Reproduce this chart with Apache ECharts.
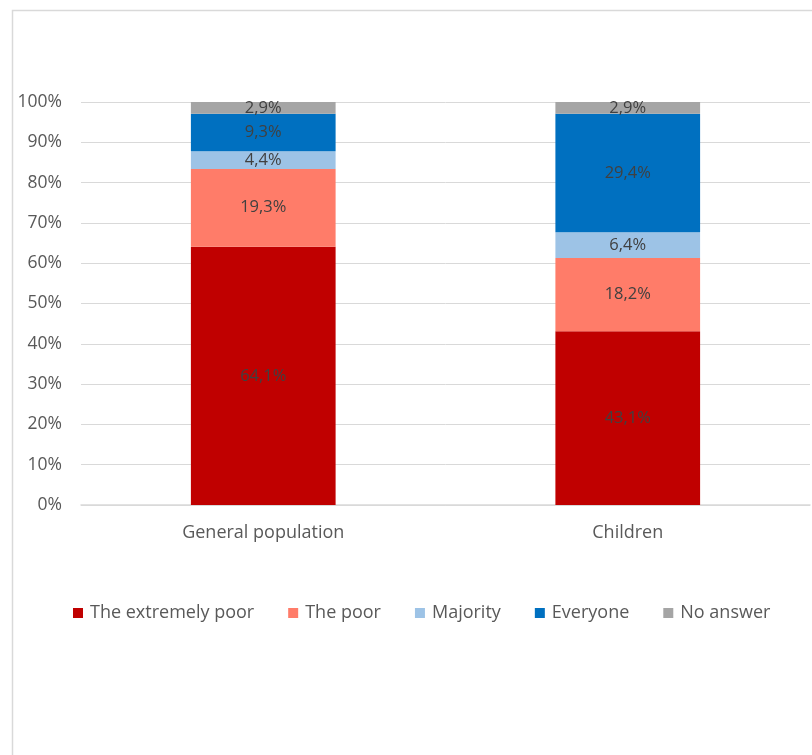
<!DOCTYPE html>
<html>
<head>
<meta charset="utf-8">
<script src="https://cdn.jsdelivr.net/npm/echarts@6/dist/echarts.min.js"></script>
<style>html,body{margin:0;padding:0;background:#fff;}#c{width:812px;height:755px;}</style>
</head>
<body>
<div id="c"></div>
<script>
const categories = ['General population', 'Children'];
const seriesNames = ['The extremely poor', 'The poor', 'Majority', 'Everyone', 'No answer'];
const extremelyPoor = [64.1, 43.1];
const poor = [19.3, 18.2];
const majority = [4.4, 6.4];
const everyone = [9.3, 29.4];
const noAnswer = [2.9, 2.9];
const colors = ['#C00000', '#FF7C69', '#9DC3E6', '#0070C0', '#A5A5A5'];
const values = [extremelyPoor, poor, majority, everyone, noAnswer];

const font = 'Open Sans';
const chart = echarts.init(document.getElementById('c'));
chart.setOption({
  animation: false,
  textStyle: { fontFamily: font },
  graphic: [{
    type: 'rect', left: 10, top: 8, silent: true,
    shape: { width: 900, height: 900 },
    style: { fill: 'none', stroke: '#d9d9d9', lineWidth: 1.5 }
  }],
  grid: { left: 81, right: 2, top: 102, bottom: 250, containLabel: false },
  legend: {
    top: 599, left: 68,
    itemWidth: 10, itemHeight: 10, itemGap: 34,
    icon: 'rect',
    textStyle: { color: '#595959', fontSize: 18, fontFamily: font, padding: [0, 0, 0, 2] },
    data: seriesNames
  },
  xAxis: {
    type: 'category', data: categories,
    axisLine: { lineStyle: { color: '#d9d9d9', width: 1.5 } },
    axisTick: { show: false },
    axisLabel: { color: '#595959', fontSize: 18, margin: 19, fontFamily: font }
  },
  yAxis: {
    type: 'value', min: 0, max: 100, interval: 10,
    axisLabel: { formatter: '{value}%', color: '#595959', fontSize: 17.5, margin: 19, fontFamily: font },
    splitLine: { lineStyle: { color: '#d9d9d9', width: 1 } },
    axisLine: { show: false }, axisTick: { show: false }
  },
  series: seriesNames.map((n, i) => ({
    name: n, type: 'bar', stack: 'total', barWidth: '39.7%',
    data: values[i],
    itemStyle: { color: colors[i] },
    label: {
      show: true, position: 'inside', color: '#404040', fontSize: 16.5, fontFamily: font,
      formatter: p => p.value.toFixed(1).replace('.', ',') + '%'
    }
  }))
});
</script>
</body>
</html>
